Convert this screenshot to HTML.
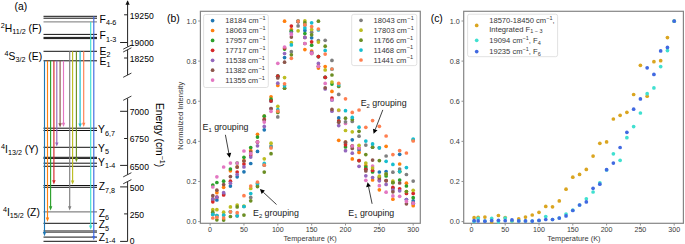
<!DOCTYPE html>
<html><head><meta charset="utf-8"><title>Figure</title>
<style>
html,body{margin:0;padding:0;background:#fff;}
body{width:685px;height:244px;overflow:hidden;}
svg{display:block;font-family:"Liberation Sans", sans-serif;}
</style></head>
<body>
<svg width="685" height="244" viewBox="0 0 685 244">
<rect x="0" y="0" width="685" height="244" fill="#fff"/>
<line x1="43.5" y1="16.3" x2="97" y2="16.3" stroke="#111" stroke-width="1" />
<line x1="43.5" y1="18.2" x2="97" y2="18.2" stroke="#111" stroke-width="1" />
<line x1="43.5" y1="21.9" x2="97" y2="21.9" stroke="#777" stroke-width="1" />
<line x1="43.5" y1="34.4" x2="97" y2="34.4" stroke="#111" stroke-width="1" />
<line x1="43.5" y1="37.4" x2="97" y2="37.4" stroke="#111" stroke-width="1" />
<line x1="43.5" y1="38.6" x2="97" y2="38.6" stroke="#111" stroke-width="1" />
<line x1="43.5" y1="51.3" x2="97" y2="51.3" stroke="#111" stroke-width="1" />
<line x1="43.5" y1="60.8" x2="97" y2="60.8" stroke="#111" stroke-width="1" />
<line x1="43.5" y1="128.2" x2="97" y2="128.2" stroke="#111" stroke-width="1" />
<line x1="43.5" y1="130.5" x2="97" y2="130.5" stroke="#111" stroke-width="1" />
<line x1="43.5" y1="147.3" x2="97" y2="147.3" stroke="#111" stroke-width="1" />
<line x1="43.5" y1="157.3" x2="97" y2="157.3" stroke="#111" stroke-width="1" />
<line x1="43.5" y1="158.4" x2="97" y2="158.4" stroke="#111" stroke-width="1" />
<line x1="43.5" y1="163.2" x2="97" y2="163.2" stroke="#111" stroke-width="1" />
<line x1="43.5" y1="166.3" x2="97" y2="166.3" stroke="#111" stroke-width="1" />
<line x1="43.5" y1="185.5" x2="97" y2="185.5" stroke="#111" stroke-width="1" />
<line x1="43.5" y1="187.3" x2="97" y2="187.3" stroke="#111" stroke-width="1" />
<line x1="43.5" y1="211.9" x2="97" y2="211.9" stroke="#666" stroke-width="1" />
<line x1="43.5" y1="223.3" x2="97" y2="223.3" stroke="#111" stroke-width="1" />
<line x1="43.5" y1="231" x2="97" y2="231" stroke="#111" stroke-width="1" />
<line x1="43.5" y1="232.5" x2="97" y2="232.5" stroke="#777" stroke-width="1" />
<line x1="43.5" y1="237.1" x2="97" y2="237.1" stroke="#111" stroke-width="1" />
<line x1="43.5" y1="241.3" x2="97" y2="241.3" stroke="#111" stroke-width="1" />
<line x1="44.5" y1="60.8" x2="44.5" y2="233.3" stroke="#1f77b4" stroke-width="1.15" />
<path d="M42.8,232.1 L46.2,232.1 L44.5,236.3 Z" fill="#1f77b4"/>
<line x1="47.5" y1="60.8" x2="47.5" y2="218.8" stroke="#ff7f0e" stroke-width="1.15" />
<path d="M45.8,217.6 L49.2,217.6 L47.5,221.8 Z" fill="#ff7f0e"/>
<line x1="50.6" y1="60.8" x2="50.6" y2="207.4" stroke="#2ca02c" stroke-width="1.15" />
<path d="M48.9,206.2 L52.3,206.2 L50.6,210.4 Z" fill="#2ca02c"/>
<line x1="53.9" y1="60.8" x2="53.9" y2="181.4" stroke="#d62728" stroke-width="1.15" />
<path d="M52.2,180.2 L55.6,180.2 L53.9,184.4 Z" fill="#d62728"/>
<line x1="56.8" y1="60.8" x2="56.8" y2="143.6" stroke="#9467bd" stroke-width="1.15" />
<path d="M55.1,142.4 L58.5,142.4 L56.8,146.6 Z" fill="#9467bd"/>
<line x1="60.1" y1="60.8" x2="60.1" y2="124.4" stroke="#8c564b" stroke-width="1.15" />
<path d="M58.4,123.2 L61.8,123.2 L60.1,127.4 Z" fill="#8c564b"/>
<line x1="63.5" y1="60.8" x2="63.5" y2="124" stroke="#e377c2" stroke-width="1.15" />
<path d="M61.8,122.8 L65.2,122.8 L63.5,127 Z" fill="#e377c2"/>
<line x1="69.7" y1="51.3" x2="69.7" y2="207.4" stroke="#7f7f7f" stroke-width="1.15" />
<path d="M68,206.2 L71.4,206.2 L69.7,210.4 Z" fill="#7f7f7f"/>
<line x1="72.6" y1="51.3" x2="72.6" y2="181.6" stroke="#bcbd22" stroke-width="1.15" />
<path d="M70.9,180.4 L74.3,180.4 L72.6,184.6 Z" fill="#bcbd22"/>
<line x1="76.4" y1="51.3" x2="76.4" y2="159.3" stroke="#6b8e23" stroke-width="1.15" />
<path d="M74.7,158.1 L78.1,158.1 L76.4,162.3 Z" fill="#6b8e23"/>
<line x1="80.1" y1="51.3" x2="80.1" y2="124.8" stroke="#17becf" stroke-width="1.15" />
<path d="M78.4,123.6 L81.8,123.6 L80.1,127.8 Z" fill="#17becf"/>
<line x1="83.7" y1="51.3" x2="83.7" y2="124" stroke="#ff7f50" stroke-width="1.15" />
<path d="M82,122.8 L85.4,122.8 L83.7,127 Z" fill="#ff7f50"/>
<line x1="90.7" y1="21.9" x2="90.7" y2="226.8" stroke="#40e0d0" stroke-width="1.15" />
<path d="M89,225.6 L92.4,225.6 L90.7,229.8 Z" fill="#40e0d0"/>
<line x1="93.8" y1="16.3" x2="93.8" y2="237.3" stroke="#4169e1" stroke-width="1.15" />
<path d="M92.1,236.1 L95.5,236.1 L93.8,240.3 Z" fill="#4169e1"/>
<text x="99.6" y="22.7" font-size="10.3">F<tspan font-size="7.21" dy="2.6">4-6</tspan></text>
<text x="99.6" y="39.4" font-size="10.3">F<tspan font-size="7.21" dy="2.6">1-3</tspan></text>
<text x="99.6" y="54.6" font-size="10.3">E<tspan font-size="7.21" dy="2.6">2</tspan></text>
<text x="99.6" y="64.7" font-size="10.3">E<tspan font-size="7.21" dy="2.6">1</tspan></text>
<text x="98.1" y="133.3" font-size="10.3">Y<tspan font-size="7.21" dy="2.6">6,7</tspan></text>
<text x="98.1" y="151.8" font-size="10.3">Y<tspan font-size="7.21" dy="2.6">5</tspan></text>
<text x="98.1" y="165.5" font-size="10.3">Y<tspan font-size="7.21" dy="2.6">1-4</tspan></text>
<text x="98.8" y="190.3" font-size="10.3">Z<tspan font-size="7.21" dy="2.6">7,8</tspan></text>
<text x="98.8" y="217.3" font-size="10.3">Z<tspan font-size="7.21" dy="2.6">6</tspan></text>
<text x="98.8" y="228" font-size="10.3">Z<tspan font-size="7.21" dy="2.6">5</tspan></text>
<text x="98.8" y="240.8" font-size="10.3">Z<tspan font-size="7.21" dy="2.6">1-4</tspan></text>
<text x="0.8" y="32" font-size="10.3"><tspan font-size="7.21" dy="-3.6">2</tspan><tspan dy="3.6">H</tspan><tspan font-size="7.21" dy="2.4">11/2</tspan><tspan dy="-2.4"> (F)</tspan></text>
<text x="4.6" y="59.6" font-size="10.3"><tspan font-size="7.21" dy="-3.6">4</tspan><tspan dy="3.6">S</tspan><tspan font-size="7.21" dy="2.4">3/2</tspan><tspan dy="-2.4"> (E)</tspan></text>
<text x="1" y="152.9" font-size="10.3"><tspan font-size="7.21" dy="-3.6">4</tspan><tspan dy="3.6">I</tspan><tspan font-size="7.21" dy="2.4">13/2</tspan><tspan dy="-2.4"> (Y)</tspan></text>
<text x="2.9" y="216" font-size="10.3"><tspan font-size="7.21" dy="-3.6">4</tspan><tspan dy="3.6">I</tspan><tspan font-size="7.21" dy="2.4">15/2</tspan><tspan dy="-2.4"> (Z)</tspan></text>
<text x="14.6" y="10" font-size="10.3" text-anchor="start" fill="#000" >(a)</text>
<line x1="127.6" y1="1.5" x2="127.6" y2="46.6" stroke="#222" stroke-width="1" />
<line x1="127.6" y1="49.6" x2="127.6" y2="75" stroke="#222" stroke-width="1" />
<line x1="127.6" y1="98.4" x2="127.6" y2="174.6" stroke="#222" stroke-width="1" />
<line x1="127.6" y1="181.8" x2="127.6" y2="241.4" stroke="#222" stroke-width="1" />
<path d="M125.5,4.8 L129.7,4.8 L127.6,0.2 Z" fill="#111"/>
<line x1="123.2" y1="49.2" x2="131.4" y2="45" stroke="#222" stroke-width="0.9" />
<line x1="123.2" y1="52" x2="131.4" y2="47.8" stroke="#222" stroke-width="0.9" />
<line x1="123.2" y1="77.3" x2="131.4" y2="73.1" stroke="#222" stroke-width="0.9" />
<line x1="123.2" y1="100.3" x2="131.4" y2="96.1" stroke="#222" stroke-width="0.9" />
<line x1="123.2" y1="176.9" x2="131.4" y2="172.7" stroke="#222" stroke-width="0.9" />
<line x1="123.2" y1="183.8" x2="131.4" y2="179.6" stroke="#222" stroke-width="0.9" />
<line x1="124.1" y1="14.8" x2="127.6" y2="14.8" stroke="#222" stroke-width="1" />
<text x="129.8" y="19.2" font-size="8.6" text-anchor="start" fill="#000" >19250</text>
<line x1="120.1" y1="42.5" x2="127.6" y2="42.5" stroke="#222" stroke-width="1" />
<text x="129.8" y="46.1" font-size="8.6" text-anchor="start" fill="#000" >19000</text>
<line x1="124.1" y1="58" x2="127.6" y2="58" stroke="#222" stroke-width="1" />
<text x="129.8" y="61.6" font-size="8.6" text-anchor="start" fill="#000" >18250</text>
<line x1="120.1" y1="111.3" x2="127.6" y2="111.3" stroke="#222" stroke-width="1" />
<text x="129.8" y="114.9" font-size="8.6" text-anchor="start" fill="#000" >7000</text>
<line x1="124.1" y1="138.5" x2="127.6" y2="138.5" stroke="#222" stroke-width="1" />
<text x="129.8" y="142.1" font-size="8.6" text-anchor="start" fill="#000" >6750</text>
<line x1="120.1" y1="165.4" x2="127.6" y2="165.4" stroke="#222" stroke-width="1" />
<text x="129.8" y="169.8" font-size="8.6" text-anchor="start" fill="#000" >6500</text>
<line x1="120.1" y1="186.9" x2="127.6" y2="186.9" stroke="#222" stroke-width="1" />
<text x="129.8" y="190.5" font-size="8.6" text-anchor="start" fill="#000" >500</text>
<line x1="124.1" y1="213.9" x2="127.6" y2="213.9" stroke="#222" stroke-width="1" />
<text x="129.8" y="217.5" font-size="8.6" text-anchor="start" fill="#000" >250</text>
<line x1="120.1" y1="241.4" x2="127.6" y2="241.4" stroke="#222" stroke-width="1" />
<text x="129.8" y="243.5" font-size="8.6" text-anchor="start" fill="#000" >0</text>
<text transform="translate(156.0,103) rotate(90)" font-size="10.3">Energy (cm<tspan font-size="7.2" dy="-3.6">−1</tspan><tspan dy="3.6">)</tspan></text>
<rect x="200.4" y="11.3" width="219.9" height="212" fill="none" stroke="#858585" stroke-width="1.2"/>
<line x1="210.1" y1="223.3" x2="210.1" y2="225.5" stroke="#888" stroke-width="0.9" />
<text x="210.1" y="232.3" font-size="7.1" text-anchor="middle" fill="#383838" >0</text>
<line x1="243.95" y1="223.3" x2="243.95" y2="225.5" stroke="#888" stroke-width="0.9" />
<text x="243.95" y="232.3" font-size="7.1" text-anchor="middle" fill="#383838" >50</text>
<line x1="277.8" y1="223.3" x2="277.8" y2="225.5" stroke="#888" stroke-width="0.9" />
<text x="277.8" y="232.3" font-size="7.1" text-anchor="middle" fill="#383838" >100</text>
<line x1="311.65" y1="223.3" x2="311.65" y2="225.5" stroke="#888" stroke-width="0.9" />
<text x="311.65" y="232.3" font-size="7.1" text-anchor="middle" fill="#383838" >150</text>
<line x1="345.5" y1="223.3" x2="345.5" y2="225.5" stroke="#888" stroke-width="0.9" />
<text x="345.5" y="232.3" font-size="7.1" text-anchor="middle" fill="#383838" >200</text>
<line x1="379.35" y1="223.3" x2="379.35" y2="225.5" stroke="#888" stroke-width="0.9" />
<text x="379.35" y="232.3" font-size="7.1" text-anchor="middle" fill="#383838" >250</text>
<line x1="413.2" y1="223.3" x2="413.2" y2="225.5" stroke="#888" stroke-width="0.9" />
<text x="413.2" y="232.3" font-size="7.1" text-anchor="middle" fill="#383838" >300</text>
<line x1="198.2" y1="221.6" x2="200.4" y2="221.6" stroke="#888" stroke-width="0.9" />
<text x="196.4" y="224.2" font-size="7.2" text-anchor="end" fill="#383838" >0.0</text>
<line x1="198.2" y1="181.48" x2="200.4" y2="181.48" stroke="#888" stroke-width="0.9" />
<text x="196.4" y="184.08" font-size="7.2" text-anchor="end" fill="#383838" >0.2</text>
<line x1="198.2" y1="141.36" x2="200.4" y2="141.36" stroke="#888" stroke-width="0.9" />
<text x="196.4" y="143.96" font-size="7.2" text-anchor="end" fill="#383838" >0.4</text>
<line x1="198.2" y1="101.24" x2="200.4" y2="101.24" stroke="#888" stroke-width="0.9" />
<text x="196.4" y="103.84" font-size="7.2" text-anchor="end" fill="#383838" >0.6</text>
<line x1="198.2" y1="61.12" x2="200.4" y2="61.12" stroke="#888" stroke-width="0.9" />
<text x="196.4" y="63.72" font-size="7.2" text-anchor="end" fill="#383838" >0.8</text>
<line x1="198.2" y1="21" x2="200.4" y2="21" stroke="#888" stroke-width="0.9" />
<text x="196.4" y="23.6" font-size="7.2" text-anchor="end" fill="#383838" >1.0</text>
<text x="310.1" y="240.7" font-size="7.4" text-anchor="middle" fill="#383838" >Temperature (K)</text>
<text transform="translate(183.4,115.8) rotate(-90)" font-size="7.5" text-anchor="middle" fill="#383838">Normalized Intensity</text>
<text x="167" y="22.2" font-size="10.4" text-anchor="start" fill="#000" >(b)</text>
<g>
<circle cx="212.81" cy="199.5" r="1.85" fill="#1f77b4"/>
<circle cx="216.87" cy="200" r="1.85" fill="#1f77b4"/>
<circle cx="223.64" cy="194" r="1.85" fill="#1f77b4"/>
<circle cx="230.41" cy="186.1" r="1.85" fill="#1f77b4"/>
<circle cx="237.18" cy="176.8" r="1.85" fill="#1f77b4"/>
<circle cx="243.95" cy="171.8" r="1.85" fill="#1f77b4"/>
<circle cx="250.72" cy="163.5" r="1.85" fill="#1f77b4"/>
<circle cx="257.49" cy="151.4" r="1.85" fill="#1f77b4"/>
<circle cx="264.26" cy="129.8" r="1.85" fill="#1f77b4"/>
<circle cx="271.03" cy="101" r="1.85" fill="#1f77b4"/>
<circle cx="277.8" cy="76.2" r="1.85" fill="#1f77b4"/>
<circle cx="284.57" cy="57.6" r="1.85" fill="#1f77b4"/>
<circle cx="291.34" cy="31" r="1.85" fill="#1f77b4"/>
<circle cx="298.11" cy="21.5" r="1.85" fill="#1f77b4"/>
<circle cx="304.88" cy="30.4" r="1.85" fill="#1f77b4"/>
<circle cx="311.65" cy="37.8" r="1.85" fill="#1f77b4"/>
<circle cx="318.42" cy="56.6" r="1.85" fill="#1f77b4"/>
<circle cx="325.19" cy="77.3" r="1.85" fill="#1f77b4"/>
<circle cx="331.96" cy="100" r="1.85" fill="#1f77b4"/>
<circle cx="338.73" cy="117.9" r="1.85" fill="#1f77b4"/>
<circle cx="345.5" cy="143" r="1.85" fill="#1f77b4"/>
<circle cx="352.27" cy="139.8" r="1.85" fill="#1f77b4"/>
<circle cx="359.04" cy="150" r="1.85" fill="#1f77b4"/>
<circle cx="365.81" cy="169" r="1.85" fill="#1f77b4"/>
<circle cx="372.58" cy="171" r="1.85" fill="#1f77b4"/>
<circle cx="379.35" cy="172" r="1.85" fill="#1f77b4"/>
<circle cx="386.12" cy="171.6" r="1.85" fill="#1f77b4"/>
<circle cx="392.89" cy="188" r="1.85" fill="#1f77b4"/>
<circle cx="399.66" cy="154.3" r="1.85" fill="#1f77b4"/>
<circle cx="406.43" cy="199.5" r="1.85" fill="#1f77b4"/>
<circle cx="413.2" cy="200.8" r="1.85" fill="#1f77b4"/>
<circle cx="212.81" cy="199" r="1.85" fill="#ff7f0e"/>
<circle cx="216.87" cy="192.7" r="1.85" fill="#ff7f0e"/>
<circle cx="223.64" cy="187.3" r="1.85" fill="#ff7f0e"/>
<circle cx="230.41" cy="170.8" r="1.85" fill="#ff7f0e"/>
<circle cx="237.18" cy="166.9" r="1.85" fill="#ff7f0e"/>
<circle cx="243.95" cy="160.7" r="1.85" fill="#ff7f0e"/>
<circle cx="250.72" cy="150.5" r="1.85" fill="#ff7f0e"/>
<circle cx="257.49" cy="134.3" r="1.85" fill="#ff7f0e"/>
<circle cx="264.26" cy="116" r="1.85" fill="#ff7f0e"/>
<circle cx="271.03" cy="96.8" r="1.85" fill="#ff7f0e"/>
<circle cx="277.8" cy="85.4" r="1.85" fill="#ff7f0e"/>
<circle cx="284.57" cy="21.2" r="1.85" fill="#ff7f0e"/>
<circle cx="291.34" cy="29.5" r="1.85" fill="#ff7f0e"/>
<circle cx="298.11" cy="21.5" r="1.85" fill="#ff7f0e"/>
<circle cx="304.88" cy="49.6" r="1.85" fill="#ff7f0e"/>
<circle cx="311.65" cy="51" r="1.85" fill="#ff7f0e"/>
<circle cx="318.42" cy="68.1" r="1.85" fill="#ff7f0e"/>
<circle cx="325.19" cy="66.5" r="1.85" fill="#ff7f0e"/>
<circle cx="331.96" cy="91.4" r="1.85" fill="#ff7f0e"/>
<circle cx="338.73" cy="140.3" r="1.85" fill="#ff7f0e"/>
<circle cx="345.5" cy="142" r="1.85" fill="#ff7f0e"/>
<circle cx="352.27" cy="158.9" r="1.85" fill="#ff7f0e"/>
<circle cx="359.04" cy="152.4" r="1.85" fill="#ff7f0e"/>
<circle cx="365.81" cy="165.5" r="1.85" fill="#ff7f0e"/>
<circle cx="372.58" cy="180" r="1.85" fill="#ff7f0e"/>
<circle cx="379.35" cy="189.8" r="1.85" fill="#ff7f0e"/>
<circle cx="386.12" cy="146.3" r="1.85" fill="#ff7f0e"/>
<circle cx="392.89" cy="199.2" r="1.85" fill="#ff7f0e"/>
<circle cx="399.66" cy="164" r="1.85" fill="#ff7f0e"/>
<circle cx="406.43" cy="183.2" r="1.85" fill="#ff7f0e"/>
<circle cx="413.2" cy="205.7" r="1.85" fill="#ff7f0e"/>
<circle cx="212.81" cy="185" r="1.85" fill="#2ca02c"/>
<circle cx="216.87" cy="182.5" r="1.85" fill="#2ca02c"/>
<circle cx="223.64" cy="181.2" r="1.85" fill="#2ca02c"/>
<circle cx="230.41" cy="169" r="1.85" fill="#2ca02c"/>
<circle cx="237.18" cy="163" r="1.85" fill="#2ca02c"/>
<circle cx="243.95" cy="157.3" r="1.85" fill="#2ca02c"/>
<circle cx="250.72" cy="147.5" r="1.85" fill="#2ca02c"/>
<circle cx="257.49" cy="137.1" r="1.85" fill="#2ca02c"/>
<circle cx="264.26" cy="116.2" r="1.85" fill="#2ca02c"/>
<circle cx="271.03" cy="99.2" r="1.85" fill="#2ca02c"/>
<circle cx="277.8" cy="76.2" r="1.85" fill="#2ca02c"/>
<circle cx="284.57" cy="49.1" r="1.85" fill="#2ca02c"/>
<circle cx="291.34" cy="31.2" r="1.85" fill="#2ca02c"/>
<circle cx="298.11" cy="21.5" r="1.85" fill="#2ca02c"/>
<circle cx="304.88" cy="33.5" r="1.85" fill="#2ca02c"/>
<circle cx="311.65" cy="45.2" r="1.85" fill="#2ca02c"/>
<circle cx="318.42" cy="56.6" r="1.85" fill="#2ca02c"/>
<circle cx="325.19" cy="77.3" r="1.85" fill="#2ca02c"/>
<circle cx="331.96" cy="84.1" r="1.85" fill="#2ca02c"/>
<circle cx="338.73" cy="121.1" r="1.85" fill="#2ca02c"/>
<circle cx="345.5" cy="146.9" r="1.85" fill="#2ca02c"/>
<circle cx="352.27" cy="146.1" r="1.85" fill="#2ca02c"/>
<circle cx="359.04" cy="160.6" r="1.85" fill="#2ca02c"/>
<circle cx="365.81" cy="167.1" r="1.85" fill="#2ca02c"/>
<circle cx="372.58" cy="172" r="1.85" fill="#2ca02c"/>
<circle cx="379.35" cy="177" r="1.85" fill="#2ca02c"/>
<circle cx="386.12" cy="176" r="1.85" fill="#2ca02c"/>
<circle cx="392.89" cy="182.5" r="1.85" fill="#2ca02c"/>
<circle cx="399.66" cy="180.1" r="1.85" fill="#2ca02c"/>
<circle cx="406.43" cy="186" r="1.85" fill="#2ca02c"/>
<circle cx="413.2" cy="197.7" r="1.85" fill="#2ca02c"/>
<circle cx="212.81" cy="201.8" r="1.85" fill="#d62728"/>
<circle cx="216.87" cy="197.2" r="1.85" fill="#d62728"/>
<circle cx="223.64" cy="195" r="1.85" fill="#d62728"/>
<circle cx="230.41" cy="181.2" r="1.85" fill="#d62728"/>
<circle cx="237.18" cy="172.1" r="1.85" fill="#d62728"/>
<circle cx="243.95" cy="164.1" r="1.85" fill="#d62728"/>
<circle cx="250.72" cy="155" r="1.85" fill="#d62728"/>
<circle cx="257.49" cy="142" r="1.85" fill="#d62728"/>
<circle cx="264.26" cy="119.4" r="1.85" fill="#d62728"/>
<circle cx="271.03" cy="101" r="1.85" fill="#d62728"/>
<circle cx="277.8" cy="76.2" r="1.85" fill="#d62728"/>
<circle cx="284.57" cy="48" r="1.85" fill="#d62728"/>
<circle cx="291.34" cy="26.1" r="1.85" fill="#d62728"/>
<circle cx="298.11" cy="21.5" r="1.85" fill="#d62728"/>
<circle cx="304.88" cy="37.4" r="1.85" fill="#d62728"/>
<circle cx="311.65" cy="41.8" r="1.85" fill="#d62728"/>
<circle cx="318.42" cy="56.6" r="1.85" fill="#d62728"/>
<circle cx="325.19" cy="77.3" r="1.85" fill="#d62728"/>
<circle cx="331.96" cy="98.1" r="1.85" fill="#d62728"/>
<circle cx="338.73" cy="121.1" r="1.85" fill="#d62728"/>
<circle cx="345.5" cy="144.8" r="1.85" fill="#d62728"/>
<circle cx="352.27" cy="146.1" r="1.85" fill="#d62728"/>
<circle cx="359.04" cy="160.6" r="1.85" fill="#d62728"/>
<circle cx="365.81" cy="169.3" r="1.85" fill="#d62728"/>
<circle cx="372.58" cy="170.4" r="1.85" fill="#d62728"/>
<circle cx="379.35" cy="180" r="1.85" fill="#d62728"/>
<circle cx="386.12" cy="180.6" r="1.85" fill="#d62728"/>
<circle cx="392.89" cy="187.4" r="1.85" fill="#d62728"/>
<circle cx="399.66" cy="188.8" r="1.85" fill="#d62728"/>
<circle cx="406.43" cy="193.4" r="1.85" fill="#d62728"/>
<circle cx="413.2" cy="193.4" r="1.85" fill="#d62728"/>
<circle cx="212.81" cy="198.9" r="1.85" fill="#9467bd"/>
<circle cx="216.87" cy="197.2" r="1.85" fill="#9467bd"/>
<circle cx="223.64" cy="192.7" r="1.85" fill="#9467bd"/>
<circle cx="230.41" cy="183.2" r="1.85" fill="#9467bd"/>
<circle cx="237.18" cy="174.5" r="1.85" fill="#9467bd"/>
<circle cx="243.95" cy="166.9" r="1.85" fill="#9467bd"/>
<circle cx="250.72" cy="157.1" r="1.85" fill="#9467bd"/>
<circle cx="257.49" cy="145.8" r="1.85" fill="#9467bd"/>
<circle cx="264.26" cy="126.4" r="1.85" fill="#9467bd"/>
<circle cx="271.03" cy="108.5" r="1.85" fill="#9467bd"/>
<circle cx="277.8" cy="83.2" r="1.85" fill="#9467bd"/>
<circle cx="284.57" cy="53.5" r="1.85" fill="#9467bd"/>
<circle cx="291.34" cy="33" r="1.85" fill="#9467bd"/>
<circle cx="298.11" cy="21.5" r="1.85" fill="#9467bd"/>
<circle cx="304.88" cy="37.4" r="1.85" fill="#9467bd"/>
<circle cx="311.65" cy="52.3" r="1.85" fill="#9467bd"/>
<circle cx="318.42" cy="63.4" r="1.85" fill="#9467bd"/>
<circle cx="325.19" cy="89" r="1.85" fill="#9467bd"/>
<circle cx="331.96" cy="111.2" r="1.85" fill="#9467bd"/>
<circle cx="338.73" cy="125.6" r="1.85" fill="#9467bd"/>
<circle cx="345.5" cy="150.7" r="1.85" fill="#9467bd"/>
<circle cx="352.27" cy="153.2" r="1.85" fill="#9467bd"/>
<circle cx="359.04" cy="166.3" r="1.85" fill="#9467bd"/>
<circle cx="365.81" cy="175.8" r="1.85" fill="#9467bd"/>
<circle cx="372.58" cy="177.5" r="1.85" fill="#9467bd"/>
<circle cx="379.35" cy="180.8" r="1.85" fill="#9467bd"/>
<circle cx="386.12" cy="184.4" r="1.85" fill="#9467bd"/>
<circle cx="392.89" cy="190" r="1.85" fill="#9467bd"/>
<circle cx="399.66" cy="190.8" r="1.85" fill="#9467bd"/>
<circle cx="406.43" cy="199.5" r="1.85" fill="#9467bd"/>
<circle cx="413.2" cy="203.2" r="1.85" fill="#9467bd"/>
<circle cx="212.81" cy="195.7" r="1.85" fill="#8c564b"/>
<circle cx="216.87" cy="190.2" r="1.85" fill="#8c564b"/>
<circle cx="223.64" cy="184.5" r="1.85" fill="#8c564b"/>
<circle cx="230.41" cy="176.6" r="1.85" fill="#8c564b"/>
<circle cx="237.18" cy="167.1" r="1.85" fill="#8c564b"/>
<circle cx="243.95" cy="161" r="1.85" fill="#8c564b"/>
<circle cx="250.72" cy="152" r="1.85" fill="#8c564b"/>
<circle cx="257.49" cy="142" r="1.85" fill="#8c564b"/>
<circle cx="264.26" cy="120" r="1.85" fill="#8c564b"/>
<circle cx="271.03" cy="108.5" r="1.85" fill="#8c564b"/>
<circle cx="277.8" cy="78" r="1.85" fill="#8c564b"/>
<circle cx="284.57" cy="62.2" r="1.85" fill="#8c564b"/>
<circle cx="291.34" cy="37.1" r="1.85" fill="#8c564b"/>
<circle cx="298.11" cy="21.5" r="1.85" fill="#8c564b"/>
<circle cx="304.88" cy="43.5" r="1.85" fill="#8c564b"/>
<circle cx="311.65" cy="53.4" r="1.85" fill="#8c564b"/>
<circle cx="318.42" cy="66.3" r="1.85" fill="#8c564b"/>
<circle cx="325.19" cy="87.8" r="1.85" fill="#8c564b"/>
<circle cx="331.96" cy="109.4" r="1.85" fill="#8c564b"/>
<circle cx="338.73" cy="122.3" r="1.85" fill="#8c564b"/>
<circle cx="345.5" cy="142" r="1.85" fill="#8c564b"/>
<circle cx="352.27" cy="148.4" r="1.85" fill="#8c564b"/>
<circle cx="359.04" cy="148" r="1.85" fill="#8c564b"/>
<circle cx="365.81" cy="170.9" r="1.85" fill="#8c564b"/>
<circle cx="372.58" cy="160.1" r="1.85" fill="#8c564b"/>
<circle cx="379.35" cy="178" r="1.85" fill="#8c564b"/>
<circle cx="386.12" cy="180.7" r="1.85" fill="#8c564b"/>
<circle cx="392.89" cy="191.8" r="1.85" fill="#8c564b"/>
<circle cx="399.66" cy="183" r="1.85" fill="#8c564b"/>
<circle cx="406.43" cy="203.8" r="1.85" fill="#8c564b"/>
<circle cx="413.2" cy="203.2" r="1.85" fill="#8c564b"/>
<circle cx="212.81" cy="187" r="1.85" fill="#e377c2"/>
<circle cx="216.87" cy="176.8" r="1.85" fill="#e377c2"/>
<circle cx="223.64" cy="167" r="1.85" fill="#e377c2"/>
<circle cx="230.41" cy="163.1" r="1.85" fill="#e377c2"/>
<circle cx="237.18" cy="163.1" r="1.85" fill="#e377c2"/>
<circle cx="243.95" cy="151" r="1.85" fill="#e377c2"/>
<circle cx="250.72" cy="153.6" r="1.85" fill="#e377c2"/>
<circle cx="257.49" cy="142" r="1.85" fill="#e377c2"/>
<circle cx="264.26" cy="122.1" r="1.85" fill="#e377c2"/>
<circle cx="271.03" cy="111.3" r="1.85" fill="#e377c2"/>
<circle cx="277.8" cy="63.3" r="1.85" fill="#e377c2"/>
<circle cx="284.57" cy="47" r="1.85" fill="#e377c2"/>
<circle cx="291.34" cy="34.4" r="1.85" fill="#e377c2"/>
<circle cx="298.11" cy="21.5" r="1.85" fill="#e377c2"/>
<circle cx="304.88" cy="43.5" r="1.85" fill="#e377c2"/>
<circle cx="311.65" cy="53.4" r="1.85" fill="#e377c2"/>
<circle cx="318.42" cy="66.3" r="1.85" fill="#e377c2"/>
<circle cx="325.19" cy="83.4" r="1.85" fill="#e377c2"/>
<circle cx="331.96" cy="100" r="1.85" fill="#e377c2"/>
<circle cx="338.73" cy="110.5" r="1.85" fill="#e377c2"/>
<circle cx="345.5" cy="123.4" r="1.85" fill="#e377c2"/>
<circle cx="352.27" cy="146" r="1.85" fill="#e377c2"/>
<circle cx="359.04" cy="148" r="1.85" fill="#e377c2"/>
<circle cx="365.81" cy="180.3" r="1.85" fill="#e377c2"/>
<circle cx="372.58" cy="166" r="1.85" fill="#e377c2"/>
<circle cx="379.35" cy="185.7" r="1.85" fill="#e377c2"/>
<circle cx="386.12" cy="192.2" r="1.85" fill="#e377c2"/>
<circle cx="392.89" cy="195.9" r="1.85" fill="#e377c2"/>
<circle cx="399.66" cy="196.3" r="1.85" fill="#e377c2"/>
<circle cx="406.43" cy="201.4" r="1.85" fill="#e377c2"/>
<circle cx="413.2" cy="203.2" r="1.85" fill="#e377c2"/>
<circle cx="212.81" cy="214.4" r="1.85" fill="#7f7f7f"/>
<circle cx="216.87" cy="215.5" r="1.85" fill="#7f7f7f"/>
<circle cx="223.64" cy="215.1" r="1.85" fill="#7f7f7f"/>
<circle cx="230.41" cy="211.8" r="1.85" fill="#7f7f7f"/>
<circle cx="237.18" cy="215.8" r="1.85" fill="#7f7f7f"/>
<circle cx="243.95" cy="206.5" r="1.85" fill="#7f7f7f"/>
<circle cx="250.72" cy="197.4" r="1.85" fill="#7f7f7f"/>
<circle cx="257.49" cy="185" r="1.85" fill="#7f7f7f"/>
<circle cx="264.26" cy="165.2" r="1.85" fill="#7f7f7f"/>
<circle cx="271.03" cy="146" r="1.85" fill="#7f7f7f"/>
<circle cx="277.8" cy="116.9" r="1.85" fill="#7f7f7f"/>
<circle cx="284.57" cy="88.2" r="1.85" fill="#7f7f7f"/>
<circle cx="291.34" cy="51.7" r="1.85" fill="#7f7f7f"/>
<circle cx="298.11" cy="25.9" r="1.85" fill="#7f7f7f"/>
<circle cx="304.88" cy="25" r="1.85" fill="#7f7f7f"/>
<circle cx="311.65" cy="32.2" r="1.85" fill="#7f7f7f"/>
<circle cx="318.42" cy="40.6" r="1.85" fill="#7f7f7f"/>
<circle cx="325.19" cy="40.3" r="1.85" fill="#7f7f7f"/>
<circle cx="331.96" cy="60.4" r="1.85" fill="#7f7f7f"/>
<circle cx="338.73" cy="94.4" r="1.85" fill="#7f7f7f"/>
<circle cx="345.5" cy="121.8" r="1.85" fill="#7f7f7f"/>
<circle cx="352.27" cy="121.5" r="1.85" fill="#7f7f7f"/>
<circle cx="359.04" cy="136.2" r="1.85" fill="#7f7f7f"/>
<circle cx="365.81" cy="145.1" r="1.85" fill="#7f7f7f"/>
<circle cx="372.58" cy="147.2" r="1.85" fill="#7f7f7f"/>
<circle cx="379.35" cy="147.8" r="1.85" fill="#7f7f7f"/>
<circle cx="386.12" cy="156" r="1.85" fill="#7f7f7f"/>
<circle cx="392.89" cy="172.2" r="1.85" fill="#7f7f7f"/>
<circle cx="399.66" cy="169.1" r="1.85" fill="#7f7f7f"/>
<circle cx="406.43" cy="174.5" r="1.85" fill="#7f7f7f"/>
<circle cx="413.2" cy="181.1" r="1.85" fill="#7f7f7f"/>
<circle cx="212.81" cy="209.7" r="1.85" fill="#bcbd22"/>
<circle cx="216.87" cy="209.7" r="1.85" fill="#bcbd22"/>
<circle cx="223.64" cy="212.2" r="1.85" fill="#bcbd22"/>
<circle cx="230.41" cy="206.9" r="1.85" fill="#bcbd22"/>
<circle cx="237.18" cy="205.1" r="1.85" fill="#bcbd22"/>
<circle cx="243.95" cy="206" r="1.85" fill="#bcbd22"/>
<circle cx="250.72" cy="188.4" r="1.85" fill="#bcbd22"/>
<circle cx="257.49" cy="183" r="1.85" fill="#bcbd22"/>
<circle cx="264.26" cy="158.8" r="1.85" fill="#bcbd22"/>
<circle cx="271.03" cy="143.2" r="1.85" fill="#bcbd22"/>
<circle cx="277.8" cy="106.3" r="1.85" fill="#bcbd22"/>
<circle cx="284.57" cy="77.6" r="1.85" fill="#bcbd22"/>
<circle cx="291.34" cy="42.6" r="1.85" fill="#bcbd22"/>
<circle cx="298.11" cy="30.8" r="1.85" fill="#bcbd22"/>
<circle cx="304.88" cy="20.8" r="1.85" fill="#bcbd22"/>
<circle cx="311.65" cy="29.5" r="1.85" fill="#bcbd22"/>
<circle cx="318.42" cy="42.1" r="1.85" fill="#bcbd22"/>
<circle cx="325.19" cy="69.9" r="1.85" fill="#bcbd22"/>
<circle cx="331.96" cy="82.1" r="1.85" fill="#bcbd22"/>
<circle cx="338.73" cy="110" r="1.85" fill="#bcbd22"/>
<circle cx="345.5" cy="130.5" r="1.85" fill="#bcbd22"/>
<circle cx="352.27" cy="131.8" r="1.85" fill="#bcbd22"/>
<circle cx="359.04" cy="145.3" r="1.85" fill="#bcbd22"/>
<circle cx="365.81" cy="163" r="1.85" fill="#bcbd22"/>
<circle cx="372.58" cy="168" r="1.85" fill="#bcbd22"/>
<circle cx="379.35" cy="176.1" r="1.85" fill="#bcbd22"/>
<circle cx="386.12" cy="174" r="1.85" fill="#bcbd22"/>
<circle cx="392.89" cy="181.1" r="1.85" fill="#bcbd22"/>
<circle cx="399.66" cy="171.6" r="1.85" fill="#bcbd22"/>
<circle cx="406.43" cy="191.5" r="1.85" fill="#bcbd22"/>
<circle cx="413.2" cy="190.3" r="1.85" fill="#bcbd22"/>
<circle cx="212.81" cy="212.2" r="1.85" fill="#6b8e23"/>
<circle cx="216.87" cy="219.8" r="1.85" fill="#6b8e23"/>
<circle cx="223.64" cy="220.1" r="1.85" fill="#6b8e23"/>
<circle cx="230.41" cy="216.5" r="1.85" fill="#6b8e23"/>
<circle cx="237.18" cy="206.9" r="1.85" fill="#6b8e23"/>
<circle cx="243.95" cy="215.1" r="1.85" fill="#6b8e23"/>
<circle cx="250.72" cy="200.8" r="1.85" fill="#6b8e23"/>
<circle cx="257.49" cy="186.6" r="1.85" fill="#6b8e23"/>
<circle cx="264.26" cy="172.1" r="1.85" fill="#6b8e23"/>
<circle cx="271.03" cy="153.7" r="1.85" fill="#6b8e23"/>
<circle cx="277.8" cy="112.4" r="1.85" fill="#6b8e23"/>
<circle cx="284.57" cy="88.2" r="1.85" fill="#6b8e23"/>
<circle cx="291.34" cy="54.8" r="1.85" fill="#6b8e23"/>
<circle cx="298.11" cy="21.2" r="1.85" fill="#6b8e23"/>
<circle cx="304.88" cy="22.7" r="1.85" fill="#6b8e23"/>
<circle cx="311.65" cy="34.8" r="1.85" fill="#6b8e23"/>
<circle cx="318.42" cy="21.2" r="1.85" fill="#6b8e23"/>
<circle cx="325.19" cy="46.2" r="1.85" fill="#6b8e23"/>
<circle cx="331.96" cy="75" r="1.85" fill="#6b8e23"/>
<circle cx="338.73" cy="86.4" r="1.85" fill="#6b8e23"/>
<circle cx="345.5" cy="118.2" r="1.85" fill="#6b8e23"/>
<circle cx="352.27" cy="119.5" r="1.85" fill="#6b8e23"/>
<circle cx="359.04" cy="131.3" r="1.85" fill="#6b8e23"/>
<circle cx="365.81" cy="154.6" r="1.85" fill="#6b8e23"/>
<circle cx="372.58" cy="147.2" r="1.85" fill="#6b8e23"/>
<circle cx="379.35" cy="160.6" r="1.85" fill="#6b8e23"/>
<circle cx="386.12" cy="174" r="1.85" fill="#6b8e23"/>
<circle cx="392.89" cy="182.7" r="1.85" fill="#6b8e23"/>
<circle cx="399.66" cy="171.6" r="1.85" fill="#6b8e23"/>
<circle cx="406.43" cy="191.5" r="1.85" fill="#6b8e23"/>
<circle cx="413.2" cy="140" r="1.85" fill="#6b8e23"/>
<circle cx="212.81" cy="214.4" r="1.85" fill="#17becf"/>
<circle cx="216.87" cy="215.5" r="1.85" fill="#17becf"/>
<circle cx="223.64" cy="215.1" r="1.85" fill="#17becf"/>
<circle cx="230.41" cy="211.8" r="1.85" fill="#17becf"/>
<circle cx="237.18" cy="215.8" r="1.85" fill="#17becf"/>
<circle cx="243.95" cy="206.5" r="1.85" fill="#17becf"/>
<circle cx="250.72" cy="193.5" r="1.85" fill="#17becf"/>
<circle cx="257.49" cy="183.5" r="1.85" fill="#17becf"/>
<circle cx="264.26" cy="163.4" r="1.85" fill="#17becf"/>
<circle cx="271.03" cy="147" r="1.85" fill="#17becf"/>
<circle cx="277.8" cy="109.7" r="1.85" fill="#17becf"/>
<circle cx="284.57" cy="85.8" r="1.85" fill="#17becf"/>
<circle cx="291.34" cy="44.9" r="1.85" fill="#17becf"/>
<circle cx="298.11" cy="21.2" r="1.85" fill="#17becf"/>
<circle cx="304.88" cy="27.9" r="1.85" fill="#17becf"/>
<circle cx="311.65" cy="22.8" r="1.85" fill="#17becf"/>
<circle cx="318.42" cy="30" r="1.85" fill="#17becf"/>
<circle cx="325.19" cy="50.4" r="1.85" fill="#17becf"/>
<circle cx="331.96" cy="69.2" r="1.85" fill="#17becf"/>
<circle cx="338.73" cy="84.8" r="1.85" fill="#17becf"/>
<circle cx="345.5" cy="110.7" r="1.85" fill="#17becf"/>
<circle cx="352.27" cy="117.4" r="1.85" fill="#17becf"/>
<circle cx="359.04" cy="127.2" r="1.85" fill="#17becf"/>
<circle cx="365.81" cy="141.1" r="1.85" fill="#17becf"/>
<circle cx="372.58" cy="143.9" r="1.85" fill="#17becf"/>
<circle cx="379.35" cy="147.8" r="1.85" fill="#17becf"/>
<circle cx="386.12" cy="161.3" r="1.85" fill="#17becf"/>
<circle cx="392.89" cy="164.4" r="1.85" fill="#17becf"/>
<circle cx="399.66" cy="171.6" r="1.85" fill="#17becf"/>
<circle cx="406.43" cy="167.6" r="1.85" fill="#17becf"/>
<circle cx="413.2" cy="139" r="1.85" fill="#17becf"/>
<circle cx="212.81" cy="218" r="1.85" fill="#ff7f50"/>
<circle cx="216.87" cy="217.3" r="1.85" fill="#ff7f50"/>
<circle cx="223.64" cy="218" r="1.85" fill="#ff7f50"/>
<circle cx="230.41" cy="211.8" r="1.85" fill="#ff7f50"/>
<circle cx="237.18" cy="212.7" r="1.85" fill="#ff7f50"/>
<circle cx="243.95" cy="195.7" r="1.85" fill="#ff7f50"/>
<circle cx="250.72" cy="186.1" r="1.85" fill="#ff7f50"/>
<circle cx="257.49" cy="182" r="1.85" fill="#ff7f50"/>
<circle cx="264.26" cy="165" r="1.85" fill="#ff7f50"/>
<circle cx="271.03" cy="147.9" r="1.85" fill="#ff7f50"/>
<circle cx="277.8" cy="111.2" r="1.85" fill="#ff7f50"/>
<circle cx="284.57" cy="83.8" r="1.85" fill="#ff7f50"/>
<circle cx="291.34" cy="58.3" r="1.85" fill="#ff7f50"/>
<circle cx="298.11" cy="21.2" r="1.85" fill="#ff7f50"/>
<circle cx="304.88" cy="24.8" r="1.85" fill="#ff7f50"/>
<circle cx="311.65" cy="26.6" r="1.85" fill="#ff7f50"/>
<circle cx="318.42" cy="29" r="1.85" fill="#ff7f50"/>
<circle cx="325.19" cy="54.1" r="1.85" fill="#ff7f50"/>
<circle cx="331.96" cy="69" r="1.85" fill="#ff7f50"/>
<circle cx="338.73" cy="83.4" r="1.85" fill="#ff7f50"/>
<circle cx="345.5" cy="98.8" r="1.85" fill="#ff7f50"/>
<circle cx="352.27" cy="112.4" r="1.85" fill="#ff7f50"/>
<circle cx="359.04" cy="110" r="1.85" fill="#ff7f50"/>
<circle cx="365.81" cy="127.3" r="1.85" fill="#ff7f50"/>
<circle cx="372.58" cy="120.6" r="1.85" fill="#ff7f50"/>
<circle cx="379.35" cy="126.3" r="1.85" fill="#ff7f50"/>
<circle cx="386.12" cy="136" r="1.85" fill="#ff7f50"/>
<circle cx="392.89" cy="154.6" r="1.85" fill="#ff7f50"/>
<circle cx="399.66" cy="150.6" r="1.85" fill="#ff7f50"/>
<circle cx="406.43" cy="153" r="1.85" fill="#ff7f50"/>
<circle cx="413.2" cy="141" r="1.85" fill="#ff7f50"/>
</g>
<rect x="203.6" y="14.5" width="64.7" height="73" rx="2" ry="2" fill="#fff" fill-opacity="0.85" stroke="#d9d9d9" stroke-width="0.8"/>
<circle cx="212.6" cy="20.6" r="1.85" fill="#1f77b4"/>
<text x="225.3" y="23.3" font-size="7.6" fill="#383838">18184 cm<tspan font-size="5.62" dx="0.5" dy="-3.3">−1</tspan></text>
<circle cx="212.6" cy="30.52" r="1.85" fill="#ff7f0e"/>
<text x="225.3" y="33.22" font-size="7.6" fill="#383838">18063 cm<tspan font-size="5.62" dx="0.5" dy="-3.3">−1</tspan></text>
<circle cx="212.6" cy="40.44" r="1.85" fill="#2ca02c"/>
<text x="225.3" y="43.14" font-size="7.6" fill="#383838">17957 cm<tspan font-size="5.62" dx="0.5" dy="-3.3">−1</tspan></text>
<circle cx="212.6" cy="50.36" r="1.85" fill="#d62728"/>
<text x="225.3" y="53.06" font-size="7.6" fill="#383838">17717 cm<tspan font-size="5.62" dx="0.5" dy="-3.3">−1</tspan></text>
<circle cx="212.6" cy="60.28" r="1.85" fill="#9467bd"/>
<text x="225.3" y="62.98" font-size="7.6" fill="#383838">11538 cm<tspan font-size="5.62" dx="0.5" dy="-3.3">−1</tspan></text>
<circle cx="212.6" cy="70.2" r="1.85" fill="#8c564b"/>
<text x="225.3" y="72.9" font-size="7.6" fill="#383838">11382 cm<tspan font-size="5.62" dx="0.5" dy="-3.3">−1</tspan></text>
<circle cx="212.6" cy="80.12" r="1.85" fill="#e377c2"/>
<text x="225.3" y="82.82" font-size="7.6" fill="#383838">11355 cm<tspan font-size="5.62" dx="0.5" dy="-3.3">−1</tspan></text>
<rect x="351.7" y="14.3" width="65.1" height="51.3" rx="2" ry="2" fill="#fff" fill-opacity="0.85" stroke="#d9d9d9" stroke-width="0.8"/>
<circle cx="361.0" cy="20.3" r="1.85" fill="#7f7f7f"/>
<text x="373.5" y="23" font-size="7.6" fill="#383838">18043 cm<tspan font-size="5.62" dx="0.5" dy="-3.3">−1</tspan></text>
<circle cx="361.0" cy="30.22" r="1.85" fill="#bcbd22"/>
<text x="373.5" y="32.92" font-size="7.6" fill="#383838">17803 cm<tspan font-size="5.62" dx="0.5" dy="-3.3">−1</tspan></text>
<circle cx="361.0" cy="40.14" r="1.85" fill="#6b8e23"/>
<text x="373.5" y="42.84" font-size="7.6" fill="#383838">11766 cm<tspan font-size="5.62" dx="0.5" dy="-3.3">−1</tspan></text>
<circle cx="361.0" cy="50.06" r="1.85" fill="#17becf"/>
<text x="373.5" y="52.76" font-size="7.6" fill="#383838">11468 cm<tspan font-size="5.62" dx="0.5" dy="-3.3">−1</tspan></text>
<circle cx="361.0" cy="59.98" r="1.85" fill="#ff7f50"/>
<text x="373.5" y="62.68" font-size="7.6" fill="#383838">11441 cm<tspan font-size="5.62" dx="0.5" dy="-3.3">−1</tspan></text>
<text transform="translate(202.6,130.2) scale(0.94,1)" font-size="9.4" fill="#1a1a1a">E<tspan font-size="6.2" dy="2.2">1</tspan><tspan dy="-2.2"> grouping</tspan></text>
<line x1="225.4" y1="134.8" x2="228.85" y2="153.18" stroke="#111" stroke-width="0.8" />
<path d="M229.7,157.7 L226.49,153.62 L231.21,152.74 Z" fill="#000"/>
<text transform="translate(253,216) scale(0.94,1)" font-size="9.4" fill="#1a1a1a">E<tspan font-size="6.2" dy="2.2">2</tspan><tspan dy="-2.2"> grouping</tspan></text>
<line x1="276.5" y1="204.5" x2="263.27" y2="192.23" stroke="#111" stroke-width="0.8" />
<path d="M259.9,189.1 L264.9,190.47 L261.64,193.99 Z" fill="#000"/>
<text transform="translate(360.7,105.8) scale(0.94,1)" font-size="9.4" fill="#1a1a1a">E<tspan font-size="6.2" dy="2.2">2</tspan><tspan dy="-2.2"> grouping</tspan></text>
<line x1="382.8" y1="109.9" x2="375.25" y2="129.51" stroke="#111" stroke-width="0.8" />
<path d="M373.6,133.8 L373.01,128.64 L377.49,130.37 Z" fill="#000"/>
<text transform="translate(348.3,216) scale(0.94,1)" font-size="9.4" fill="#1a1a1a">E<tspan font-size="6.2" dy="2.2">1</tspan><tspan dy="-2.2"> grouping</tspan></text>
<line x1="372.1" y1="203.8" x2="368.54" y2="186.8" stroke="#111" stroke-width="0.8" />
<path d="M367.6,182.3 L370.89,186.31 L366.19,187.29 Z" fill="#000"/>
<rect x="463.7" y="11.3" width="219.7" height="212" fill="none" stroke="#858585" stroke-width="1.2"/>
<line x1="471.4" y1="223.3" x2="471.4" y2="225.5" stroke="#888" stroke-width="0.9" />
<text x="471.4" y="232.3" font-size="7.1" text-anchor="middle" fill="#383838" >0</text>
<line x1="505.2" y1="223.3" x2="505.2" y2="225.5" stroke="#888" stroke-width="0.9" />
<text x="505.2" y="232.3" font-size="7.1" text-anchor="middle" fill="#383838" >50</text>
<line x1="539" y1="223.3" x2="539" y2="225.5" stroke="#888" stroke-width="0.9" />
<text x="539" y="232.3" font-size="7.1" text-anchor="middle" fill="#383838" >100</text>
<line x1="572.8" y1="223.3" x2="572.8" y2="225.5" stroke="#888" stroke-width="0.9" />
<text x="572.8" y="232.3" font-size="7.1" text-anchor="middle" fill="#383838" >150</text>
<line x1="606.6" y1="223.3" x2="606.6" y2="225.5" stroke="#888" stroke-width="0.9" />
<text x="606.6" y="232.3" font-size="7.1" text-anchor="middle" fill="#383838" >200</text>
<line x1="640.4" y1="223.3" x2="640.4" y2="225.5" stroke="#888" stroke-width="0.9" />
<text x="640.4" y="232.3" font-size="7.1" text-anchor="middle" fill="#383838" >250</text>
<line x1="674.2" y1="223.3" x2="674.2" y2="225.5" stroke="#888" stroke-width="0.9" />
<text x="674.2" y="232.3" font-size="7.1" text-anchor="middle" fill="#383838" >300</text>
<line x1="461.5" y1="221.6" x2="463.7" y2="221.6" stroke="#888" stroke-width="0.9" />
<text x="459.7" y="224.2" font-size="7.2" text-anchor="end" fill="#383838" >0.0</text>
<line x1="461.5" y1="181.48" x2="463.7" y2="181.48" stroke="#888" stroke-width="0.9" />
<text x="459.7" y="184.08" font-size="7.2" text-anchor="end" fill="#383838" >0.2</text>
<line x1="461.5" y1="141.36" x2="463.7" y2="141.36" stroke="#888" stroke-width="0.9" />
<text x="459.7" y="143.96" font-size="7.2" text-anchor="end" fill="#383838" >0.4</text>
<line x1="461.5" y1="101.24" x2="463.7" y2="101.24" stroke="#888" stroke-width="0.9" />
<text x="459.7" y="103.84" font-size="7.2" text-anchor="end" fill="#383838" >0.6</text>
<line x1="461.5" y1="61.12" x2="463.7" y2="61.12" stroke="#888" stroke-width="0.9" />
<text x="459.7" y="63.72" font-size="7.2" text-anchor="end" fill="#383838" >0.8</text>
<line x1="461.5" y1="21" x2="463.7" y2="21" stroke="#888" stroke-width="0.9" />
<text x="459.7" y="23.6" font-size="7.2" text-anchor="end" fill="#383838" >1.0</text>
<text x="573.9" y="240.7" font-size="7.4" text-anchor="middle" fill="#383838" >Temperature (K)</text>
<text x="430.7" y="22.2" font-size="10.4" text-anchor="start" fill="#000" >(c)</text>
<circle cx="474.1" cy="217.7" r="1.85" fill="#daa520"/>
<circle cx="478.16" cy="217.3" r="1.85" fill="#daa520"/>
<circle cx="484.92" cy="217.1" r="1.85" fill="#daa520"/>
<circle cx="491.68" cy="222" r="1.85" fill="#daa520"/>
<circle cx="498.44" cy="215.5" r="1.85" fill="#daa520"/>
<circle cx="505.2" cy="217.5" r="1.85" fill="#daa520"/>
<circle cx="511.96" cy="221" r="1.85" fill="#daa520"/>
<circle cx="518.72" cy="218.9" r="1.85" fill="#daa520"/>
<circle cx="525.48" cy="217.1" r="1.85" fill="#daa520"/>
<circle cx="532.24" cy="215" r="1.85" fill="#daa520"/>
<circle cx="539" cy="212.3" r="1.85" fill="#daa520"/>
<circle cx="545.76" cy="206.4" r="1.85" fill="#daa520"/>
<circle cx="552.52" cy="206.8" r="1.85" fill="#daa520"/>
<circle cx="559.28" cy="200.9" r="1.85" fill="#daa520"/>
<circle cx="566.04" cy="189.2" r="1.85" fill="#daa520"/>
<circle cx="572.8" cy="177.2" r="1.85" fill="#daa520"/>
<circle cx="579.56" cy="174.4" r="1.85" fill="#daa520"/>
<circle cx="586.32" cy="169.4" r="1.85" fill="#daa520"/>
<circle cx="593.08" cy="156.1" r="1.85" fill="#daa520"/>
<circle cx="599.84" cy="143.3" r="1.85" fill="#daa520"/>
<circle cx="606.6" cy="141.9" r="1.85" fill="#daa520"/>
<circle cx="613.36" cy="119" r="1.85" fill="#daa520"/>
<circle cx="620.12" cy="115.3" r="1.85" fill="#daa520"/>
<circle cx="626.88" cy="112.3" r="1.85" fill="#daa520"/>
<circle cx="633.64" cy="94.5" r="1.85" fill="#daa520"/>
<circle cx="640.4" cy="65.3" r="1.85" fill="#daa520"/>
<circle cx="647.16" cy="96.2" r="1.85" fill="#daa520"/>
<circle cx="653.92" cy="61.7" r="1.85" fill="#daa520"/>
<circle cx="660.68" cy="60.7" r="1.85" fill="#daa520"/>
<circle cx="667.44" cy="37.6" r="1.85" fill="#daa520"/>
<circle cx="674.2" cy="21.2" r="1.85" fill="#daa520"/>
<circle cx="474.1" cy="221.4" r="1.85" fill="#40e0d0"/>
<circle cx="478.16" cy="218.4" r="1.85" fill="#40e0d0"/>
<circle cx="484.92" cy="221" r="1.85" fill="#40e0d0"/>
<circle cx="491.68" cy="218.4" r="1.85" fill="#40e0d0"/>
<circle cx="498.44" cy="221.8" r="1.85" fill="#40e0d0"/>
<circle cx="505.2" cy="218.1" r="1.85" fill="#40e0d0"/>
<circle cx="511.96" cy="221" r="1.85" fill="#40e0d0"/>
<circle cx="518.72" cy="221" r="1.85" fill="#40e0d0"/>
<circle cx="525.48" cy="221" r="1.85" fill="#40e0d0"/>
<circle cx="532.24" cy="221" r="1.85" fill="#40e0d0"/>
<circle cx="539" cy="220.5" r="1.85" fill="#40e0d0"/>
<circle cx="545.76" cy="216.5" r="1.85" fill="#40e0d0"/>
<circle cx="552.52" cy="219.5" r="1.85" fill="#40e0d0"/>
<circle cx="559.28" cy="218" r="1.85" fill="#40e0d0"/>
<circle cx="566.04" cy="214.1" r="1.85" fill="#40e0d0"/>
<circle cx="572.8" cy="210.2" r="1.85" fill="#40e0d0"/>
<circle cx="579.56" cy="205" r="1.85" fill="#40e0d0"/>
<circle cx="586.32" cy="198.8" r="1.85" fill="#40e0d0"/>
<circle cx="593.08" cy="192" r="1.85" fill="#40e0d0"/>
<circle cx="599.84" cy="182.8" r="1.85" fill="#40e0d0"/>
<circle cx="606.6" cy="170" r="1.85" fill="#40e0d0"/>
<circle cx="613.36" cy="153.8" r="1.85" fill="#40e0d0"/>
<circle cx="620.12" cy="160.3" r="1.85" fill="#40e0d0"/>
<circle cx="626.88" cy="137.7" r="1.85" fill="#40e0d0"/>
<circle cx="633.64" cy="126.6" r="1.85" fill="#40e0d0"/>
<circle cx="640.4" cy="113" r="1.85" fill="#40e0d0"/>
<circle cx="647.16" cy="93.7" r="1.85" fill="#40e0d0"/>
<circle cx="653.92" cy="87.9" r="1.85" fill="#40e0d0"/>
<circle cx="660.68" cy="66.6" r="1.85" fill="#40e0d0"/>
<circle cx="667.44" cy="50.6" r="1.85" fill="#40e0d0"/>
<circle cx="674.2" cy="21.2" r="1.85" fill="#40e0d0"/>
<circle cx="474.1" cy="220.7" r="1.85" fill="#4169e1"/>
<circle cx="478.16" cy="220.9" r="1.85" fill="#4169e1"/>
<circle cx="484.92" cy="221.2" r="1.85" fill="#4169e1"/>
<circle cx="491.68" cy="220.6" r="1.85" fill="#4169e1"/>
<circle cx="498.44" cy="220.3" r="1.85" fill="#4169e1"/>
<circle cx="505.2" cy="220.7" r="1.85" fill="#4169e1"/>
<circle cx="511.96" cy="219.9" r="1.85" fill="#4169e1"/>
<circle cx="518.72" cy="220.9" r="1.85" fill="#4169e1"/>
<circle cx="525.48" cy="220.9" r="1.85" fill="#4169e1"/>
<circle cx="532.24" cy="221.1" r="1.85" fill="#4169e1"/>
<circle cx="539" cy="220.4" r="1.85" fill="#4169e1"/>
<circle cx="545.76" cy="219.5" r="1.85" fill="#4169e1"/>
<circle cx="552.52" cy="219.5" r="1.85" fill="#4169e1"/>
<circle cx="559.28" cy="218.1" r="1.85" fill="#4169e1"/>
<circle cx="566.04" cy="215.9" r="1.85" fill="#4169e1"/>
<circle cx="572.8" cy="210.5" r="1.85" fill="#4169e1"/>
<circle cx="579.56" cy="205" r="1.85" fill="#4169e1"/>
<circle cx="586.32" cy="201.9" r="1.85" fill="#4169e1"/>
<circle cx="593.08" cy="188.3" r="1.85" fill="#4169e1"/>
<circle cx="599.84" cy="184.2" r="1.85" fill="#4169e1"/>
<circle cx="606.6" cy="169.7" r="1.85" fill="#4169e1"/>
<circle cx="613.36" cy="163.1" r="1.85" fill="#4169e1"/>
<circle cx="620.12" cy="147.5" r="1.85" fill="#4169e1"/>
<circle cx="626.88" cy="132.3" r="1.85" fill="#4169e1"/>
<circle cx="633.64" cy="109.2" r="1.85" fill="#4169e1"/>
<circle cx="640.4" cy="98.9" r="1.85" fill="#4169e1"/>
<circle cx="647.16" cy="67.8" r="1.85" fill="#4169e1"/>
<circle cx="653.92" cy="74.4" r="1.85" fill="#4169e1"/>
<circle cx="660.68" cy="50.9" r="1.85" fill="#4169e1"/>
<circle cx="667.44" cy="47.4" r="1.85" fill="#4169e1"/>
<circle cx="674.2" cy="21.1" r="1.85" fill="#4169e1"/>
<rect x="467.6" y="14.2" width="90" height="42.5" rx="2" ry="2" fill="#fff" fill-opacity="0.85" stroke="#d9d9d9" stroke-width="0.8"/>
<circle cx="476.7" cy="25.4" r="1.85" fill="#daa520"/>
<circle cx="476.7" cy="40.3" r="1.85" fill="#40e0d0"/>
<circle cx="476.7" cy="51.6" r="1.85" fill="#4169e1"/>
<text x="489.2" y="23.4" font-size="7.6" fill="#383838">18570-18450 cm<tspan font-size="5.47" dy="-3">−1</tspan><tspan dy="3">,</tspan></text>
<text x="489.2" y="31.6" font-size="7.6" fill="#383838">Integrated F<tspan font-size="5.47" dy="1.8">1 − 3</tspan></text>
<text x="489.2" y="43.0" font-size="7.6" fill="#383838">19094 cm<tspan font-size="5.47" dy="-3">−1</tspan><tspan dy="3">, F</tspan><tspan font-size="5.47" dy="1.8">4</tspan></text>
<text x="489.2" y="54.3" font-size="7.6" fill="#383838">19235 cm<tspan font-size="5.47" dy="-3">−1</tspan><tspan dy="3">, F</tspan><tspan font-size="5.47" dy="1.8">6</tspan></text>
</svg>
</body></html>
